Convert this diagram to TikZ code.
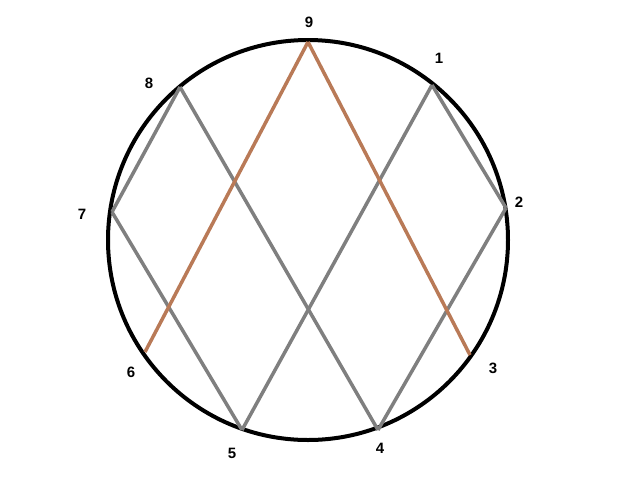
\documentclass[tikz,border=0pt]{standalone}
\usepackage{fontspec}
\setmainfont{Liberation Sans}
\usepackage{xcolor}
\usepackage{tikz}
\definecolor{paintgray}{RGB}{127,127,127}
\definecolor{paintbrown}{RGB}{185,122,87}

\begin{document}
\begin{tikzpicture}[x=1pt, y=-1pt]
\useasboundingbox (0,0) rectangle (640,480);

\draw[black, line width=4pt] (308,240) circle (200);

\coordinate (point_9) at (308,42);
\coordinate (point_1) at (432,85);
\coordinate (point_2) at (506,208);
\coordinate (point_3) at (470,355);
\coordinate (point_4) at (378,430);
\coordinate (point_5) at (242,430);
\coordinate (point_6) at (145,352);
\coordinate (point_7) at (112,212);
\coordinate (point_8) at (180,87);

\draw[paintgray, line width=3.5pt] (point_8) -- (point_7);
\draw[paintgray, line width=3.5pt] (point_7) -- (point_5);
\draw[paintgray, line width=3.5pt] (point_8) -- (point_4);
\draw[paintgray, line width=3.5pt] (point_1) -- (point_5);
\draw[paintgray, line width=3.5pt] (point_1) -- (point_2);
\draw[paintgray, line width=3.5pt] (point_2) -- (point_4);

\draw[paintbrown, line width=3.5pt] (point_6) -- (point_9);
\draw[paintbrown, line width=3.5pt] (point_9) -- (point_3);

\node[font=\bfseries\fontsize{15}{15}\selectfont] (label_9) at (309,22) {9};
\node[font=\bfseries\fontsize{15}{15}\selectfont] (label_1) at (439,58) {1};
\node[font=\bfseries\fontsize{15}{15}\selectfont] (label_2) at (519,202) {2};
\node[font=\bfseries\fontsize{15}{15}\selectfont] (label_3) at (493,368) {3};
\node[font=\bfseries\fontsize{15}{15}\selectfont] (label_4) at (380,448) {4};
\node[font=\bfseries\fontsize{15}{15}\selectfont] (label_5) at (232,453) {5};
\node[font=\bfseries\fontsize{15}{15}\selectfont] (label_6) at (131,372) {6};
\node[font=\bfseries\fontsize{15}{15}\selectfont] (label_7) at (82,214) {7};
\node[font=\bfseries\fontsize{15}{15}\selectfont] (label_8) at (149,83) {8};

\end{tikzpicture}
\end{document}
